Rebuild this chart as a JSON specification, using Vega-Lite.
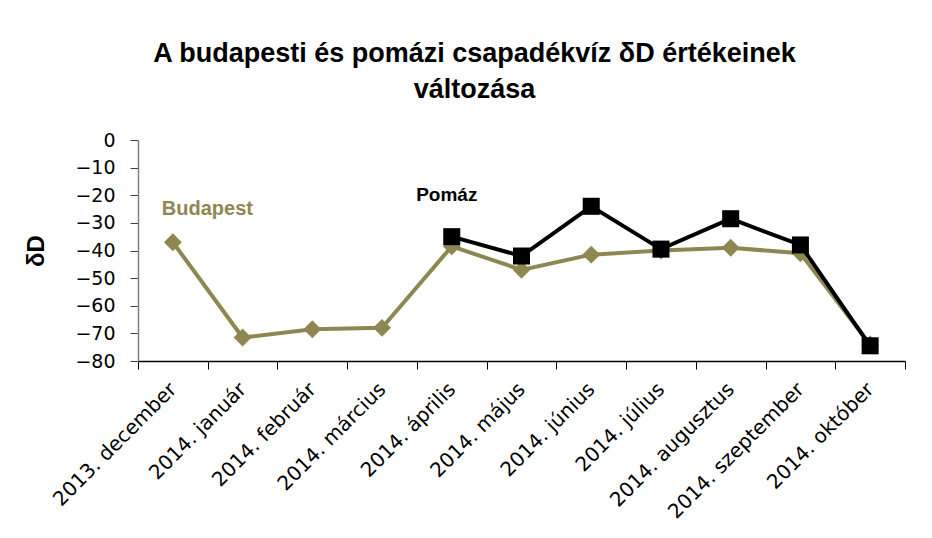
{
  "$schema": "https://vega.github.io/schema/vega-lite/v6.json",
  "width": 767,
  "height": 221,
  "autosize": {"type": "none"},
  "padding": {"left": 138, "top": 140, "right": 27, "bottom": 177},
  "background": "white",
  "title": {
    "text": ["A budapesti és pomázi csapadékvíz δD értékeinek", "változása"],
    "font": "Liberation Sans",
    "fontSize": 27,
    "fontWeight": "bold",
    "color": "black",
    "anchor": "middle",
    "dx": -47,
    "offset": 27,
    "lineHeight": 36
  },
  "config": {"view": {"stroke": null}},
  "datasets": {
    "series": [
      {"month": "2013. december", "series": "Budapest", "value": -37},
      {"month": "2014. január", "series": "Budapest", "value": -71.5},
      {"month": "2014. február", "series": "Budapest", "value": -68.5},
      {"month": "2014. március", "series": "Budapest", "value": -68},
      {"month": "2014. április", "series": "Budapest", "value": -38.5},
      {"month": "2014. május", "series": "Budapest", "value": -47},
      {"month": "2014. június", "series": "Budapest", "value": -41.5},
      {"month": "2014. július", "series": "Budapest", "value": -40},
      {"month": "2014. augusztus", "series": "Budapest", "value": -39},
      {"month": "2014. szeptember", "series": "Budapest", "value": -41},
      {"month": "2014. október", "series": "Budapest", "value": -74},
      {"month": "2014. április", "series": "Pomáz", "value": -35},
      {"month": "2014. május", "series": "Pomáz", "value": -42},
      {"month": "2014. június", "series": "Pomáz", "value": -24},
      {"month": "2014. július", "series": "Pomáz", "value": -39.5},
      {"month": "2014. augusztus", "series": "Pomáz", "value": -28.5},
      {"month": "2014. szeptember", "series": "Pomáz", "value": -38},
      {"month": "2014. október", "series": "Pomáz", "value": -74.5}
    ],
    "labels": [
      {"month": "2013. december", "series": "Budapest", "value": -25, "label": "Budapest"},
      {"month": "2014. április", "series": "Pomáz", "value": -20, "label": "Pomáz"}
    ]
  },
  "encoding": {
    "x": {
      "field": "month",
      "type": "ordinal",
      "sort": null,
      "scale": {
        "type": "band",
        "domain": ["2013. december", "2014. január", "2014. február", "2014. március", "2014. április", "2014. május", "2014. június", "2014. július", "2014. augusztus", "2014. szeptember", "2014. október"],
        "paddingInner": 0,
        "paddingOuter": 0
      },
      "axis": {
        "title": null,
        "labelAngle": -45,
        "labelAlign": "right",
        "labelBaseline": "middle",
        "labelLimit": 400,
        "tickBand": "extent",
        "domainColor": "black",
        "domainWidth": 1.5,
        "tickColor": "black",
        "tickSize": 8,
        "labelFont": "DejaVu Sans",
        "labelFontSize": 20,
        "labelColor": "black",
        "labelPadding": 17
      }
    },
    "y": {
      "field": "value",
      "type": "quantitative",
      "scale": {"domain": [-80, 0], "nice": false},
      "axis": {
        "title": "δD",
        "titleFont": "Liberation Sans",
        "titleFontSize": 24,
        "titleFontWeight": "bold",
        "titleColor": "black",
        "titlePadding": 26,
        "values": [0, -10, -20, -30, -40, -50, -60, -70, -80],
        "grid": false,
        "domainColor": "#808080",
        "domainWidth": 1.5,
        "tickColor": "#404040",
        "tickSize": 8,
        "labelPadding": 15,
        "labelFont": "DejaVu Sans",
        "labelFontSize": 19,
        "labelColor": "black"
      }
    }
  },
  "layer": [
    {
      "mark": {"type": "rule", "color": "black", "strokeWidth": 1.5},
      "encoding": {"x": null, "y": {"datum": 0}}
    },
    {
      "data": {"name": "series"},
      "transform": [{"filter": "datum.series === 'Budapest'"}],
      "mark": {"type": "line", "color": "#8F8752", "strokeWidth": 4}
    },
    {
      "data": {"name": "series"},
      "transform": [{"filter": "datum.series === 'Budapest'"}],
      "mark": {"type": "point", "shape": "diamond", "filled": true, "color": "#8F8752", "size": 320, "opacity": 1}
    },
    {
      "data": {"name": "series"},
      "transform": [{"filter": "datum.series === 'Pomáz'"}],
      "mark": {"type": "line", "color": "black", "strokeWidth": 4}
    },
    {
      "data": {"name": "series"},
      "transform": [{"filter": "datum.series === 'Pomáz'"}],
      "mark": {"type": "point", "shape": "square", "filled": true, "color": "black", "size": 290, "opacity": 1}
    },
    {
      "data": {"name": "labels"},
      "transform": [{"filter": "datum.series === 'Budapest'"}],
      "mark": {"type": "text", "color": "#8F8752", "font": "Liberation Sans", "fontSize": 20, "fontWeight": "bold", "align": "left", "baseline": "middle", "dx": -11},
      "encoding": {"text": {"field": "label"}}
    },
    {
      "data": {"name": "labels"},
      "transform": [{"filter": "datum.series === 'Pomáz'"}],
      "mark": {"type": "text", "color": "black", "font": "Liberation Sans", "fontSize": 19, "fontWeight": "bold", "align": "center", "baseline": "middle", "dx": -5},
      "encoding": {"text": {"field": "label"}}
    }
  ]
}
